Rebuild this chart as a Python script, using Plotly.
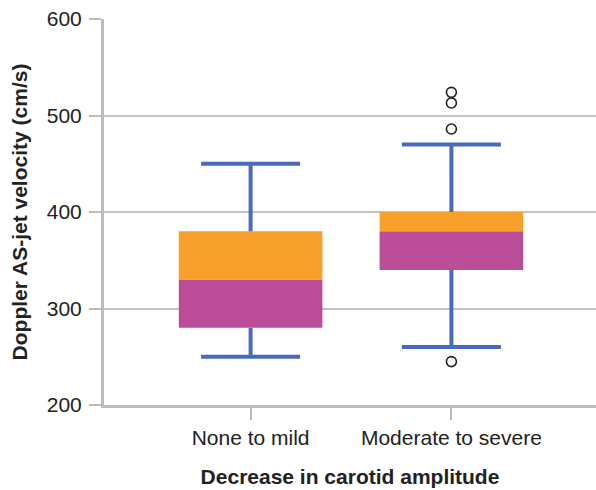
import plotly.graph_objects as go

categories = ["None to mild", "Moderate to severe"]
whisker_low = [250, 260]
q1 = [280, 340]
median = [330, 380]
q3 = [380, 400]
whisker_high = [450, 470]
outlier_cat = ["Moderate to severe"] * 4
outlier_vals = [245, 486, 513, 524]
y_ticks = [200, 300, 400, 500, 600]

FONT = "Liberation Sans, Arial, Helvetica, sans-serif"
BLUE = "#4A6BBB"
ORANGE = "#F7A02C"
MAGENTA = "#BB4C98"
GRAY = "#BDBDBD"
FS = 21

fig = go.Figure()

# lower half (Q1 -> median)
fig.add_trace(go.Bar(
    x=categories, y=[m - a for m, a in zip(median, q1)], base=q1,
    marker=dict(color=MAGENTA, line=dict(width=0)), width=0.715, showlegend=False,
    hoverinfo="skip"))
# upper half (median -> Q3)
fig.add_trace(go.Bar(
    x=categories, y=[b - m for b, m in zip(q3, median)], base=median,
    marker=dict(color=ORANGE, line=dict(width=0)), width=0.715, showlegend=False,
    hoverinfo="skip"))

# whisker stems
wx, wy = [], []
for c, lo, a, b, hi in zip(categories, whisker_low, q1, q3, whisker_high):
    wx += [c, c, None, c, c, None]
    wy += [b, hi, None, lo, a, None]
fig.add_trace(go.Scatter(
    x=wx, y=wy, mode="lines", line=dict(color=BLUE, width=4),
    showlegend=False, hoverinfo="skip"))

# whisker caps
fig.add_trace(go.Scatter(
    x=categories + categories, y=whisker_high + whisker_low, mode="markers",
    marker=dict(size=0.1, opacity=0),
    error_y=dict(type="data", symmetric=True, array=[0, 0, 0, 0],
                 color=BLUE, thickness=4, width=49.5),
    showlegend=False, hoverinfo="skip"))

# outliers
fig.add_trace(go.Scatter(
    x=outlier_cat, y=outlier_vals, mode="markers",
    marker=dict(symbol="circle-open", size=10, color="#222222", line=dict(width=1.6)),
    showlegend=False, hoverinfo="skip"))

fig.update_layout(
    width=596, height=490,
    margin=dict(l=104, r=0, t=19, b=85),
    plot_bgcolor="white", paper_bgcolor="white",
    barmode="overlay",
    font=dict(family=FONT, size=FS, color="#222222"),
    xaxis=dict(
        type="category", categoryorder="array", categoryarray=categories,
        range=[-0.73, 1.72],
        showline=True, linecolor=GRAY, linewidth=3,
        ticks="outside", ticklen=12, tickcolor=GRAY, tickwidth=1.5,
        showgrid=False, zeroline=False,
        tickfont=dict(size=FS),
        title=dict(text="<b>Decrease in carotid amplitude</b>", font=dict(size=FS), standoff=22),
    ),
    yaxis=dict(
        range=[200, 600], tickvals=y_ticks,
        showline=True, linecolor=GRAY, linewidth=3,
        ticks="outside", ticklen=12, tickcolor=GRAY, tickwidth=1.5,
        showgrid=True, gridcolor="#C4C4C4", gridwidth=1.5,
        zeroline=False, ticklabelstandoff=3,
        tickfont=dict(size=FS),
        title=dict(text="<b>Doppler AS-jet velocity (cm/s)</b>", font=dict(size=FS), standoff=14),
    ),
)

fig.write_html("out.html")
